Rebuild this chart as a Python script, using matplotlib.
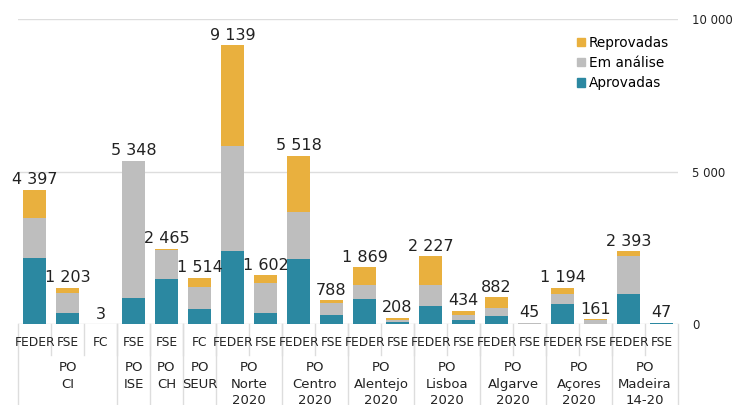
import numpy as np
import matplotlib.pyplot as plt
from matplotlib.patches import Patch
import matplotlib.transforms as mtransforms

# data
fundos = ["FEDER", "FSE", "FC", "FSE", "FSE", "FC", "FEDER", "FSE", "FEDER", "FSE",
          "FEDER", "FSE", "FEDER", "FSE", "FEDER", "FSE", "FEDER", "FSE", "FEDER", "FSE"]
programas = ["PO\nCI", "PO\nISE", "PO\nCH", "PO\nSEUR", "PO\nNorte\n2020",
             "PO\nCentro\n2020", "PO\nAlentejo\n2020", "PO\nLisboa\n2020",
             "PO\nAlgarve\n2020", "PO\nAçores\n2020", "PO\nMadeira\n14-20"]
barras_por_programa = [3, 1, 1, 1, 2, 2, 2, 2, 2, 2, 2]

aprovadas = [2165, 360, 3, 860, 1480, 495, 2404, 385, 2142, 310,
             830, 70, 613, 130, 290, 10, 668, 15, 996, 40]
em_analise = [1330, 680, 0, 4480, 955, 740, 3450, 960, 1530, 390,
              460, 80, 680, 180, 240, 25, 330, 140, 1250, 5]
reprovadas = [902, 163, 0, 8, 30, 279, 3285, 257, 1846, 88,
              579, 58, 934, 124, 352, 10, 196, 6, 147, 2]
totais = [4397, 1203, 3, 5348, 2465, 1514, 9139, 1602, 5518, 788,
          1869, 208, 2227, 434, 882, 45, 1194, 161, 2393, 47]

c_aprov = "#2b88a1"
c_anal = "#bebebe"
c_repr = "#e9b03e"
c_sep = "#dddddd"

fig = plt.figure(figsize=(7.42, 4.05), dpi=100)
ax = fig.add_axes([18 / 742, 1 - 324.4 / 405, 660 / 742, 305.4 / 405])

x = np.arange(len(fundos))
w = 0.7
ap = np.array(aprovadas)
an = np.array(em_analise)
rp = np.array(reprovadas)
ax.bar(x, ap, w, color=c_aprov, zorder=3)
ax.bar(x, an, w, bottom=ap, color=c_anal, zorder=3)
ax.bar(x, rp, w, bottom=ap + an, color=c_repr, zorder=3)

for xi, t in zip(x, totais):
    ax.annotate(f"{t:,}".replace(",", " "), (xi, t), xytext=(0, 2),
                textcoords="offset points", ha="center", va="bottom",
                fontsize=11.5, color="#222222", clip_on=False, zorder=4)

ax.set_xlim(-0.5, len(fundos) - 0.5)
ax.set_ylim(0, 10000)
ax.set_yticks([0, 5000, 10000])
ax.set_yticklabels(["0", "5 000", "10 000"])
ax.yaxis.tick_right()
ax.tick_params(axis="y", length=0, pad=10, labelsize=8.5, labelcolor="#222222")
ax.yaxis.grid(True, color="#dddddd", linewidth=1, zorder=0)
ax.set_xticks([])
for s in ax.spines.values():
    s.set_visible(False)

trans = mtransforms.blended_transform_factory(ax.transData, ax.transAxes)

# category labels with short separators between bars
for xi, f in zip(x, fundos):
    ax.text(xi, -0.06, f, transform=trans, ha="center", va="center",
            fontsize=8.8, color="#222222")
for b in x[:-1] + 0.5:
    ax.plot([b, b], [0, -0.1], transform=trans, color=c_sep, linewidth=1,
            clip_on=False)

# program labels and full separators
inicio = 0
bounds = [-0.5]
for prog, n in zip(programas, barras_por_programa):
    centro = inicio + (n - 1) / 2
    ax.text(centro, -0.12, prog, transform=trans, ha="center", va="top",
            fontsize=9.5, color="#222222", linespacing=1.37)
    inicio += n
    bounds.append(inicio - 0.5)
for b in bounds:
    ax.plot([b, b], [0, -0.3], transform=trans, color=c_sep, linewidth=1,
            clip_on=False)

handles = [Patch(color=c_repr, label="Reprovadas"),
           Patch(color=c_anal, label="Em análise"),
           Patch(color=c_aprov, label="Aprovadas")]
ax.legend(handles=handles, loc="upper left", bbox_to_anchor=(570 / 742, 1 - 29 / 405),
          bbox_transform=fig.transFigure, frameon=False, fontsize=9.8,
          handlelength=0.6, handleheight=0.6, handletextpad=0.3, labelspacing=0.45,
          borderpad=0)

fig.savefig("out.png", dpi=100)
